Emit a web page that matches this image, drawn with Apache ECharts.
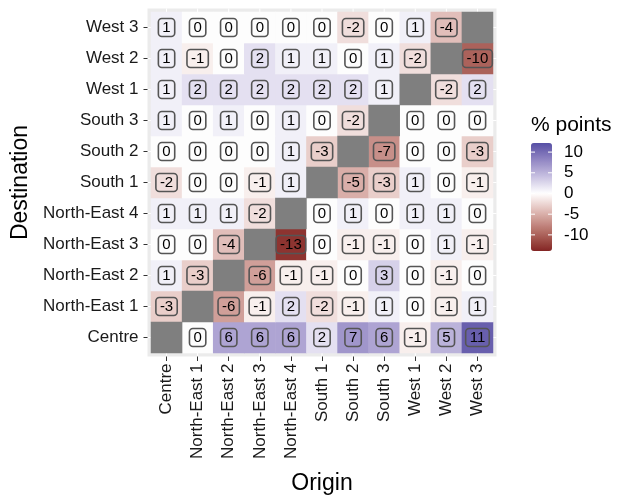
<!DOCTYPE html>
<html><head><meta charset="utf-8">
<script src="https://cdn.jsdelivr.net/npm/echarts@6/dist/echarts.min.js"></script>
<style>html,body{margin:0;padding:0;background:#fff}#c{width:623px;height:495px}</style>
</head><body><div id="c"></div>
<script>
// Origins (x axis) and destinations (y axis, bottom to top)
const origins = ['Centre','North-East 1','North-East 2','North-East 3','North-East 4','South 1','South 2','South 3','West 1','West 2','West 3'];
const destinations = ['Centre','North-East 1','North-East 2','North-East 3','North-East 4','South 1','South 2','South 3','West 1','West 2','West 3'];
// values per destination, in origin order; null = same region (grey)
const destCentre = [null,0,6,6,6,2,7,6,-1,5,11];
const destNE1 = [-3,null,-6,-1,2,-2,-1,1,0,-1,1];
const destNE2 = [1,-3,null,-6,-1,-1,0,3,0,-1,0];
const destNE3 = [0,0,-4,null,-13,0,-1,-1,0,1,-1];
const destNE4 = [1,1,1,-2,null,0,1,0,1,1,0];
const destS1 = [-2,0,0,-1,1,null,-5,-3,1,0,-1];
const destS2 = [0,0,0,0,1,-3,null,-7,0,0,-3];
const destS3 = [1,0,1,0,1,0,-2,null,0,0,0];
const destW1 = [1,2,2,2,2,2,2,1,null,-2,2];
const destW2 = [1,-1,0,2,1,1,0,1,-2,null,-10];
const destW3 = [1,0,0,0,0,0,-2,0,1,-4,null];
const rows = [destCentre,destNE1,destNE2,destNE3,destNE4,destS1,destS2,destS3,destW1,destW2,destW3];
const legendTicks = [10,5,0,-5,-10];
const scaleMin = -13.9, scaleMax = 12.2;

const data = [], naData = [];
rows.forEach((r, yi) => r.forEach((v, xi) => {
  if (v === null) naData.push([xi, yi, 0]); else data.push([xi, yi, v]);
}));

// Lab interpolation (like ggplot gradient2)
function hex2rgb(h){return [1,3,5].map(i=>parseInt(h.substr(i,2),16));}
function lin(c){c/=255;return c<=0.04045?c/12.92:Math.pow((c+0.055)/1.055,2.4);}
function delin(c){c=c<=0.0031308?12.92*c:1.055*Math.pow(c,1/2.4)-0.055;return Math.max(0,Math.min(255,Math.round(c*255)));}
const WX=0.95047,WY=1,WZ=1.08883;
function f(t){return t>0.008856?Math.cbrt(t):7.787*t+16/116;}
function fi(t){return t>0.206893?t*t*t:(t-16/116)/7.787;}
function rgb2lab(rgb){const [r,g,b]=rgb.map(lin);
  const x=(r*0.4124+g*0.3576+b*0.1805)/WX,y=(r*0.2126+g*0.7152+b*0.0722)/WY,z=(r*0.0193+g*0.1192+b*0.9505)/WZ;
  return [116*f(y)-16,500*(f(x)-f(y)),200*(f(y)-f(z))];}
function lab2rgb(l){const fy=(l[0]+16)/116,fx=fy+l[1]/500,fz=fy-l[2]/200;
  const x=fi(fx)*WX,y=fi(fy)*WY,z=fi(fz)*WZ;
  const r=3.2406*x-1.5372*y-0.4986*z,g=-0.9689*x+1.8758*y+0.0415*z,b=0.0557*x-0.2040*y+1.0570*z;
  return 'rgb('+[r,g,b].map(delin).join(',')+')';}
const LOW=rgb2lab(hex2rgb('#832424')),MID=rgb2lab(hex2rgb('#FFFFFF')),HIGH=rgb2lab(hex2rgb('#3A3A98'));
function colAt(v){const m=Math.max(Math.abs(scaleMin),Math.abs(scaleMax));let t=v/m;const tgt=t<0?LOW:HIGH;t=Math.abs(t);
  return lab2rgb(MID.map((c,i)=>c+(tgt[i]-c)*t));}
const stops=[];const N=80;
for(let i=0;i<=N;i++)stops.push(colAt(scaleMin+(scaleMax-scaleMin)*i/N));

const FONT = "'Liberation Sans', Arial, Helvetica, sans-serif";
const G = {left:151, top:12, width:342, height:341};
const strip = 3.5;
const LB = {left:531, top:143, width:21, height:108};
const yOf = v => LB.top + (scaleMax - v) / (scaleMax - scaleMin) * LB.height;

const graphics = [];
graphics.push({type:'rect', z:-10, shape:{x:G.left-strip, y:G.top-strip, width:G.width+2*strip, height:G.height+2*strip}, style:{fill:'#EBEBEB'}});
const cw = G.width/origins.length, ch = G.height/destinations.length;
for (let i=0;i<origins.length;i++){
  const x = G.left+(i+0.5)*cw;
  graphics.push({type:'line', z:-5, shape:{x1:x,y1:G.top-strip,x2:x,y2:G.top}, style:{stroke:'#fff',lineWidth:1}});
  graphics.push({type:'line', z:-5, shape:{x1:x,y1:G.top+G.height,x2:x,y2:G.top+G.height+strip}, style:{stroke:'#fff',lineWidth:1}});
}
for (let j=0;j<destinations.length;j++){
  const y = G.top+(j+0.5)*ch;
  graphics.push({type:'line', z:-5, shape:{x1:G.left-strip,y1:y,x2:G.left,y2:y}, style:{stroke:'#fff',lineWidth:1}});
  graphics.push({type:'line', z:-5, shape:{x1:G.left+G.width,y1:y,x2:G.left+G.width+strip,y2:y}, style:{stroke:'#fff',lineWidth:1}});
}
graphics.push({type:'text', left:LB.left, top:115, style:{text:'% points', font:'21px '+FONT, fill:'#000'}});
legendTicks.forEach(v => {
  const y = yOf(v);
  graphics.push({type:'text', z:100, x:LB.left+LB.width+12, y:y, style:{text:String(v), font:'17px '+FONT, fill:'#000', textVerticalAlign:'middle', verticalAlign:'middle'}});
  graphics.push({type:'line', z:100, shape:{x1:LB.left,y1:y,x2:LB.left+4,y2:y}, style:{stroke:'#fff',lineWidth:1}});
  graphics.push({type:'line', z:100, shape:{x1:LB.left+LB.width-4,y1:y,x2:LB.left+LB.width,y2:y}, style:{stroke:'#fff',lineWidth:1}});
});

const chart = echarts.init(document.getElementById('c'), null, {renderer:'canvas'});
chart.setOption({
  animation:false,
  backgroundColor:'#fff',
  grid:{left:G.left, top:G.top, width:G.width, height:G.height, containLabel:false, outerBoundsMode:'none'},
  xAxis:{type:'category', data:origins, offset:strip,
    axisLine:{show:false}, axisTick:{show:true, alignWithLabel:true, length:4.5, lineStyle:{color:'#333'}},
    axisLabel:{rotate:90, margin:7, interval:0, fontSize:17, color:'#1a1a1a', fontFamily:FONT},
    splitLine:{show:false},
    name:'Origin', nameLocation:'middle', nameGap:116, nameTextStyle:{fontSize:23, color:'#000', fontFamily:FONT}},
  yAxis:{type:'category', data:destinations, offset:strip,
    axisLine:{show:false}, axisTick:{show:true, alignWithLabel:true, length:4, lineStyle:{color:'#333'}},
    axisLabel:{margin:9, interval:0, fontSize:17, color:'#1a1a1a', fontFamily:FONT},
    splitLine:{show:false},
    name:'Destination', nameLocation:'middle', nameRotate:90, nameGap:110, nameTextStyle:{fontSize:23, color:'#000', fontFamily:FONT}},
  visualMap:{type:'continuous', seriesIndex:0, dimension:2, min:scaleMin, max:scaleMax, calculable:false,
    left:LB.left, top:LB.top, itemWidth:LB.width, itemHeight:LB.height, padding:0, text:null,
    inRange:{color:stops}, hoverLink:false},
  graphic:graphics,
  series:[
    {type:'heatmap', data:data, emphasis:{disabled:true},
      label:{show:true, formatter:p=>String(p.value[2]), fontSize:15, fontFamily:FONT, color:'#000',
        borderColor:'#555', borderWidth:0.8, borderRadius:3.5, padding:[3.5,4,3.5,4], lineHeight:11, backgroundColor:'transparent'}},
    {type:'heatmap', data:naData, itemStyle:{color:'#7F7F7F'}, emphasis:{disabled:true}, label:{show:false}}
  ]
});
</script></body></html>
